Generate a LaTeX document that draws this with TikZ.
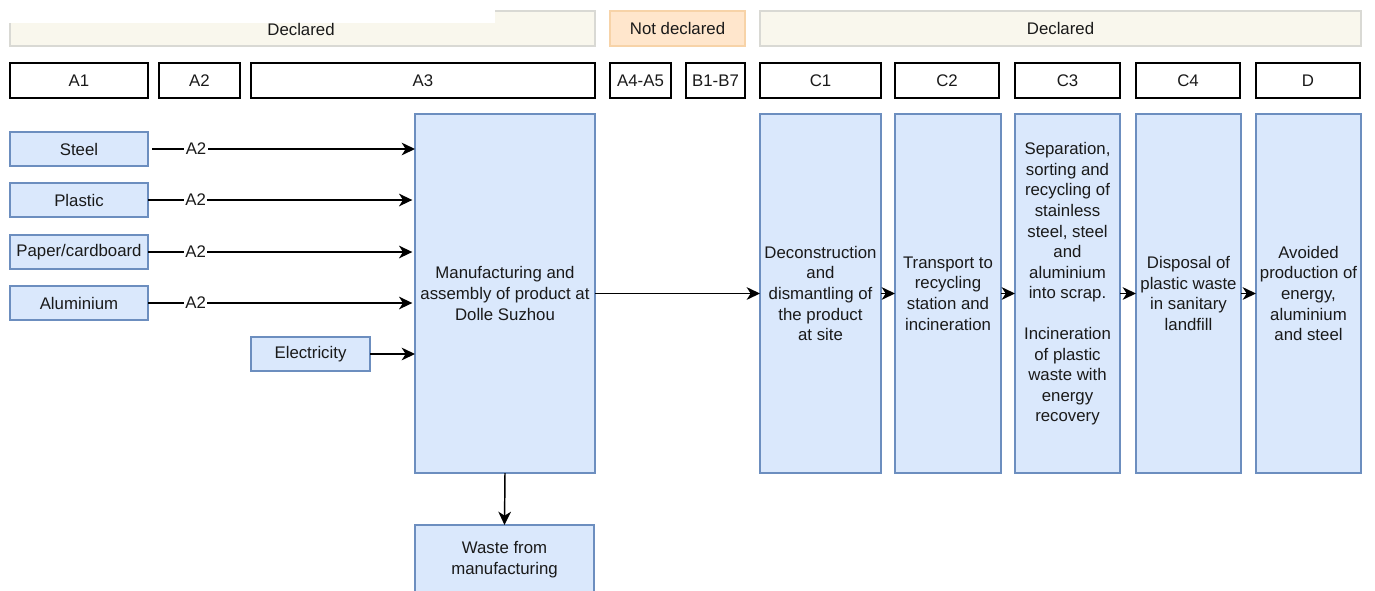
\documentclass[tikz,border=0pt]{standalone}
\usepackage{fontspec}
\setmainfont{Liberation Sans}
\usetikzlibrary{arrows.meta}
\definecolor{bfill}{HTML}{DAE8FC}
\definecolor{bdraw}{HTML}{6C8EBF}
\definecolor{decfill}{HTML}{F9F7ED}
\definecolor{decdraw}{HTML}{D9D9D4}
\definecolor{ndfill}{HTML}{FFE6CC}
\definecolor{nddraw}{HTML}{F7D3A8}
\definecolor{txt}{HTML}{1A1A1A}
\newcommand{\bnode}[7]{%
  \pgfmathsetmacro{\bw}{(#5-#3)*0.75}%
  \pgfmathsetmacro{\bh}{(#6-#4)*0.75}%
  \node[#1, minimum width=\bw pt, minimum height=\bh pt] (#2) at ({(#3+#5)/2},{(#4+#6)/2}) {#7};%
}
\tikzset{
  base/.style={inner sep=0pt, outer sep=0pt, align=center, text=txt, font=\fontsize{12.6}{15.4}\selectfont},
  bluebox/.style={base, draw=bdraw, fill=bfill, line width=1pt},
  stagebox/.style={base, draw=black, fill=white, line width=1.1pt},
  decbar/.style={base, draw=decdraw, fill=decfill, line width=0.8pt},
  ndbar/.style={base, draw=nddraw, fill=ndfill, line width=0.8pt},
  plaintext/.style={base},
  arr/.style={-{Stealth[length=10pt,width=9.5pt,inset=3pt]}, line width=1.1pt, black},
  lab/.style={base, fill=white, inner sep=1pt}
}
\begin{document}
\begin{tikzpicture}[x=0.75pt,y=-0.75pt]
\useasboundingbox (0,0) rectangle (1375,590);
% top bars
\bnode{decbar}{decL}{10}{11}{595}{46}{}
\fill[white] (0,0) rectangle (495,23);
\node[plaintext] (decLt) at (301,29) {Declared};
\bnode{ndbar}{nd}{610}{11}{745}{46}{Not declared}
\bnode{decbar}{decR}{760}{11}{1361}{46}{Declared}
% stage boxes
\bnode{stagebox}{sA1}{10}{63}{148}{98}{A1}
\bnode{stagebox}{sA2}{159}{63}{240}{98}{A2}
\bnode{stagebox}{sA3}{251}{63}{595}{98}{A3}
\bnode{stagebox}{sA4}{610}{63}{671}{98}{A4-A5}
\bnode{stagebox}{sB1}{686}{63}{745}{98}{B1-B7}
\bnode{stagebox}{sC1}{760}{63}{881}{98}{C1}
\bnode{stagebox}{sC2}{895}{63}{999}{98}{C2}
\bnode{stagebox}{sC3}{1015}{63}{1120}{98}{C3}
\bnode{stagebox}{sC4}{1136}{63}{1240}{98}{C4}
\bnode{stagebox}{sD}{1256}{63}{1360}{98}{D}
% inputs
\bnode{bluebox}{steel}{10}{132}{148}{166}{Steel}
\bnode{bluebox}{plastic}{10}{183}{148}{217}{Plastic}
\bnode{bluebox}{paper}{10}{235}{148}{269}{Paper/cardboard}
\bnode{bluebox}{alu}{10}{286}{148}{320}{Aluminium}
\bnode{bluebox}{elec}{251}{337}{370}{371}{Electricity}
% main
\bnode{bluebox}{main}{415}{114}{595}{473}{Manufacturing and\\assembly of product at\\Dolle Suzhou}
\bnode{bluebox}{waste}{415}{525}{594}{620}{}
\node[plaintext] (wastet) at (504.5,559.5) {Waste from\\manufacturing};
% C boxes
\bnode{bluebox}{c1}{760}{114}{881}{473}{Deconstruction\\and\\dismantling of\\the product\\at site}
\bnode{bluebox}{c2}{895}{114}{1001}{473}{Transport to\\recycling\\station and\\incineration}
\bnode{bluebox}{c3}{1015}{114}{1120}{473}{}
\node[plaintext] (c3t) at (1067.5,284) {Separation,\\sorting and\\recycling of\\stainless\\steel, steel\\and\\aluminium\\into scrap.\\[15.4pt]Incineration\\of plastic\\waste with\\energy\\recovery};
\bnode{bluebox}{c4}{1136}{114}{1241}{473}{Disposal of\\plastic waste\\in sanitary\\landfill}
\bnode{bluebox}{d}{1256}{114}{1361}{473}{Avoided\\production of\\energy,\\aluminium\\and steel}
% arrows
\draw[arr, shorten <=3pt] (steel.east) -- (main.west |- steel.east) node[lab, pos=0.18] {A2};
\draw[arr] (plastic.east) -- ([xshift=-2pt]main.west |- plastic.east) node[lab, pos=0.18] {A2};
\draw[arr] (paper.east) -- ([xshift=-2pt]main.west |- paper.east) node[lab, pos=0.18] {A2};
\draw[arr] (alu.east) -- ([xshift=-2pt]main.west |- alu.east) node[lab, pos=0.18] {A2};
\draw[arr] (elec.east) -- (main.west |- elec.east);
\draw[arr] (main) -- (c1);
\draw[arr] (c1) -- (c2);
\draw[arr] (c2) -- (c3);
\draw[arr] (c3) -- (c4);
\draw[arr] (c4) -- (d);
\draw[arr] (main.south) -- (waste.north);
\end{tikzpicture}
\end{document}
